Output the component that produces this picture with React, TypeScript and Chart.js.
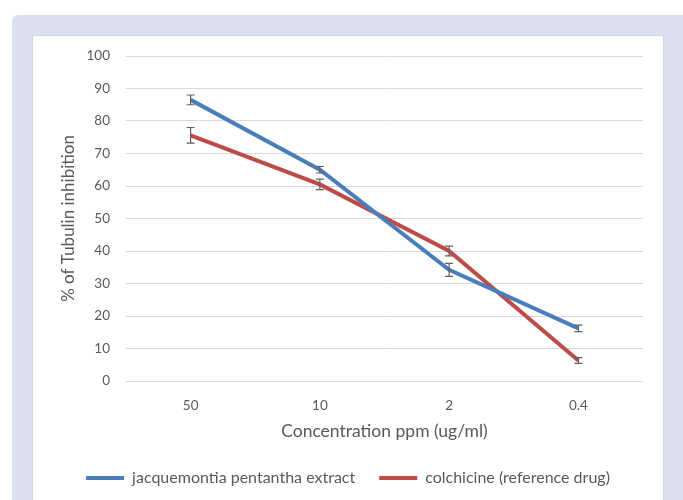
import React, { useEffect, useRef } from "react";
import { Chart, registerables } from "chart.js";

Chart.register(...registerables);

const categories = ["50", "10", "2", "0.4"];
const extractValues = [86.5, 65, 34.2, 16.2];
const extractErrors = [1.5, 1, 2, 1];
const colchicineValues = [75.6, 60.5, 40, 6.3];
const colchicineErrors = [2.4, 1.6, 1.5, 0.9];
const yTicks = [0, 10, 20, 30, 40, 50, 60, 70, 80, 90, 100];

const FONT = "Lato, 'Open Sans', sans-serif";
const TEXT = "#595959";

const errorBars = {
  id: "errorBars",
  afterDatasetsDraw(chart: any) {
    const ctx = chart.ctx;
    const yScale = chart.scales.y;
    const errs = [extractErrors, colchicineErrors];
    ctx.save();
    ctx.strokeStyle = "#5f5f5f";
    ctx.lineWidth = 1.2;
    chart.data.datasets.forEach((ds: any, i: number) => {
      const meta = chart.getDatasetMeta(i);
      meta.data.forEach((pt: any, j: number) => {
        const v = ds.data[j];
        const e = errs[i][j];
        const x = pt.x;
        const yTop = yScale.getPixelForValue(v + e);
        const yBot = yScale.getPixelForValue(v - e);
        ctx.beginPath();
        ctx.moveTo(x, yTop);
        ctx.lineTo(x, yBot);
        ctx.moveTo(x - 4, yTop);
        ctx.lineTo(x + 4, yTop);
        ctx.moveTo(x - 4, yBot);
        ctx.lineTo(x + 4, yBot);
        ctx.stroke();
      });
    });
    ctx.restore();
  },
};

export default function App() {
  const ref = useRef<HTMLCanvasElement>(null);
  useEffect(() => {
    document.body.style.margin = "0";
    const chart = new Chart(ref.current!, {
      type: "line",
      data: {
        labels: categories,
        datasets: [
          {
            label: "jacquemontia pentantha extract",
            data: extractValues,
            borderColor: "#4a7ebb",
            backgroundColor: "#4a7ebb",
            borderWidth: 4,
            pointRadius: 0,
            tension: 0,
          },
          {
            label: "colchicine (reference drug)",
            data: colchicineValues,
            borderColor: "#be4b48",
            backgroundColor: "#be4b48",
            borderWidth: 4,
            pointRadius: 0,
            tension: 0,
          },
        ],
      },
      options: {
        animation: false,
        responsive: false,
        layout: { padding: { top: 20, right: 0, left: 0, bottom: 4 } },
        plugins: {
          legend: {
            position: "bottom",
            labels: {
              boxWidth: 38,
              boxHeight: 4,
              padding: 24,
              color: TEXT,
              font: { family: FONT, size: 16 },
              generateLabels(chart: any) {
                const items = Chart.defaults.plugins.legend.labels.generateLabels(chart);
                return items.map((it: any) => ({ ...it, lineWidth: 0 }));
              },
            },
          },
          tooltip: { enabled: false },
        },
        scales: {
          x: {
            offset: true,
            grid: { display: false },
            border: { display: false },
            ticks: { color: TEXT, font: { family: FONT, size: 13.5 }, padding: 9 },
            title: {
              display: true,
              text: "Concentration ppm (ug/ml)",
              color: TEXT,
              font: { family: FONT, size: 17.5 },
              padding: { top: 6, bottom: 4 },
            },
            afterFit(scale: any) {
              scale.height = 65;
            },
          },
          y: {
            min: 0,
            max: 100,
            afterBuildTicks(scale: any) {
              scale.ticks = yTicks.map((v) => ({ value: v }));
            },
            grid: { color: "#d9d9d9", drawTicks: true, tickLength: 12, tickColor: "rgba(0,0,0,0)" },
            border: { display: false },
            ticks: { color: TEXT, font: { family: FONT, size: 13.5 }, padding: 4 },
            title: {
              display: true,
              text: "% of Tubulin inhibition",
              color: TEXT,
              font: { family: FONT, size: 17 },
              padding: { top: 25, bottom: 0 },
            },
            afterFit(scale: any) {
              scale.width = 93;
            },
          },
          yRightSpace: {
            type: "linear",
            position: "right",
            display: true,
            grid: { display: false },
            border: { display: false },
            ticks: { display: false },
            afterFit(scale: any) {
              scale.width = 20;
            },
          },
        },
      },
      plugins: [errorBars],
    } as any);
    return () => chart.destroy();
  }, []);

  return (
    <div style={{ position: "relative", width: 683, height: 500, background: "#fff", overflow: "hidden" }}>
      <div
        style={{
          position: "absolute",
          left: 12,
          top: 15,
          width: 671,
          height: 485,
          background: "#dcdfed",
          borderTopLeftRadius: 6,
        }}
      />
      <div
        style={{
          position: "absolute",
          left: 33,
          top: 36,
          width: 630,
          height: 464,
          background: "#fff",
          boxShadow: "0 0 0 1px #d4d6de",
        }}
      >
        <canvas ref={ref} width={630} height={464} style={{ display: "block" }} />
      </div>
    </div>
  );
}
